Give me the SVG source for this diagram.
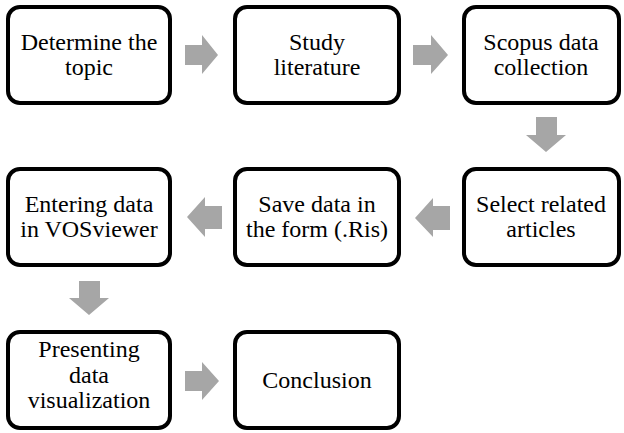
<svg xmlns="http://www.w3.org/2000/svg" width="624" height="433" viewBox="0 0 624 433">
<style>
.box{fill:#fff;stroke:#000;stroke-width:4}
.t{font-family:"Liberation Serif","Times New Roman",serif;font-size:24px;fill:#000;text-anchor:middle}
.a{fill:#a6a6a6}
</style>
<rect width="624" height="433" fill="#fff"/>
<g id="connectors">
<polygon class="a" points="185,45 202,45 202,35 218,55 202,74 202,65 185,65"/>
<polygon class="a" points="413,45 431,45 431,35 448,55 431,74 431,65 413,65"/>
<polygon class="a" points="536,117 557,117 557,135 566,135 546,152 526,135 536,135"/>
<polygon class="a" points="450,206 433,206 433,198 415,218 433,237 433,230 450,230"/>
<polygon class="a" points="222,206 205,206 205,197 187,217 205,237 205,229 222,229"/>
<polygon class="a" points="79,281 100,281 100,298 109,298 89,315 69,298 79,298"/>
<polygon class="a" points="185,371 202,371 202,362 219,381 202,400 202,391 185,391"/>
</g>
<g id="n1"><rect class="box" x="8" y="7" width="162" height="96" rx="12"/><text class="t" x="89" y="50">Determine the</text><text class="t" x="89" y="75">topic</text></g>
<g id="n2"><rect class="box" x="235" y="7" width="164" height="96" rx="12"/><text class="t" x="317" y="50">Study</text><text class="t" x="317" y="75">literature</text></g>
<g id="n3"><rect class="box" x="464" y="7" width="155" height="96" rx="12"/><text class="t" x="541" y="50">Scopus data</text><text class="t" x="541" y="75">collection</text></g>
<g id="n4"><rect class="box" x="464" y="169" width="155" height="96" rx="12"/><text class="t" x="541" y="212">Select related</text><text class="t" x="541" y="237">articles</text></g>
<g id="n5"><rect class="box" x="235" y="169" width="164" height="96" rx="12"/><text class="t" x="317" y="212">Save data in</text><text class="t" x="317" y="237">the form (.Ris)</text></g>
<g id="n6"><rect class="box" x="8" y="169" width="162" height="96" rx="12"/><text class="t" x="89" y="212">Entering data</text><text class="t" x="89" y="237">in VOSviewer</text></g>
<g id="n7"><rect class="box" x="8" y="332" width="162" height="96" rx="12"/><text class="t" x="89" y="357">Presenting</text><text class="t" x="89" y="383">data</text><text class="t" x="89" y="408">visualization</text></g>
<g id="n8"><rect class="box" x="235" y="332" width="164" height="96" rx="12"/><text class="t" x="317" y="388">Conclusion</text></g>
</svg>
